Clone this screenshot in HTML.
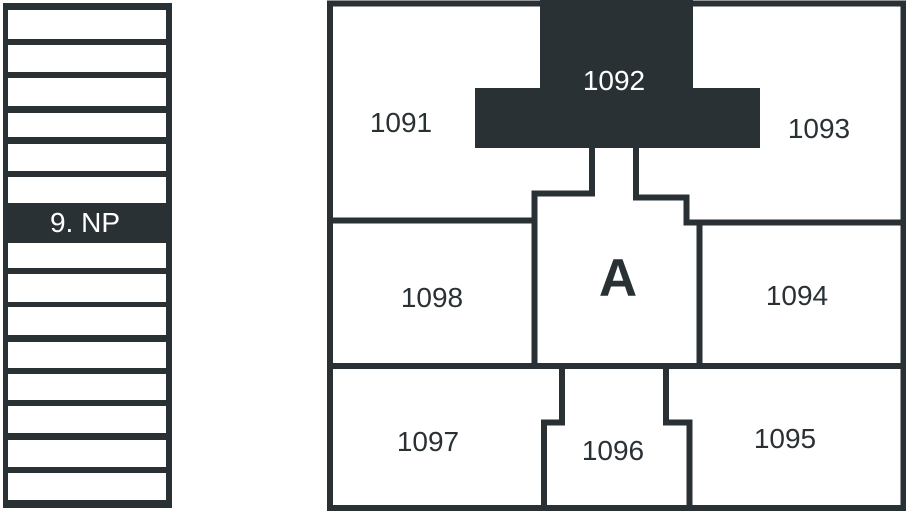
<!DOCTYPE html>
<html><head><meta charset="utf-8"><style>
html,body{margin:0;padding:0;background:#fff;}
svg{display:block;}
text{font-family:"Liberation Sans",sans-serif;}
</style></head><body>
<svg width="906" height="511" viewBox="0 0 906 511" xmlns="http://www.w3.org/2000/svg">
<g fill="#293135">
<rect x="3" y="3" width="169" height="505"/>
</g>
<g fill="#fff">
<rect x="8" y="10" width="158" height="29"/>
<rect x="8" y="45" width="158" height="27"/>
<rect x="8" y="78" width="158" height="28"/>
<rect x="8" y="113" width="158" height="24"/>
<rect x="8" y="144" width="158" height="27"/>
<rect x="8" y="177" width="158" height="26"/>
<rect x="8" y="243" width="158" height="25"/>
<rect x="8" y="274" width="158" height="28"/>
<rect x="8" y="307" width="158" height="28"/>
<rect x="8" y="342" width="158" height="26"/>
<rect x="8" y="374" width="158" height="26"/>
<rect x="8" y="406" width="158" height="27"/>
<rect x="8" y="440" width="158" height="27"/>
<rect x="8" y="473" width="158" height="27"/>
</g>
<text x="85" y="232" font-size="28" fill="#fff" text-anchor="middle">9. NP</text>

<rect x="330" y="3.5" width="573.5" height="504.5" fill="none" stroke="#293135" stroke-width="6"/>
<path d="M540 0 H693 V88 H760 V148 H475 V88 H540 Z" fill="#293135"/>
<g fill="none" stroke="#293135" stroke-width="6" stroke-linejoin="miter">
<polyline points="330,220.5 534.5,220.5"/>
<polyline points="592,148 592,193.5 534.5,193.5 534.5,366"/>
<polyline points="636,148 636,197.5 686.5,197.5 686.5,222.5 903,222.5"/>
<polyline points="699.5,222.5 699.5,366"/>
<polyline points="330,366 903,366"/>
<polyline points="562,366 562,422.5 544,422.5 544,508"/>
<polyline points="666,366 666,422.5 689.5,422.5 689.5,508"/>
</g>
<g font-size="28" fill="#293135" text-anchor="middle">
<text x="401" y="132">1091</text>
<text x="614" y="90" fill="#fff">1092</text>
<text x="819" y="138">1093</text>
<text x="432" y="307">1098</text>
<text x="797" y="305">1094</text>
<text x="428" y="451">1097</text>
<text x="613" y="460">1096</text>
<text x="785" y="448">1095</text>
<text x="618" y="296" font-size="53" font-weight="bold">A</text>
</g>
</svg>
</body></html>
